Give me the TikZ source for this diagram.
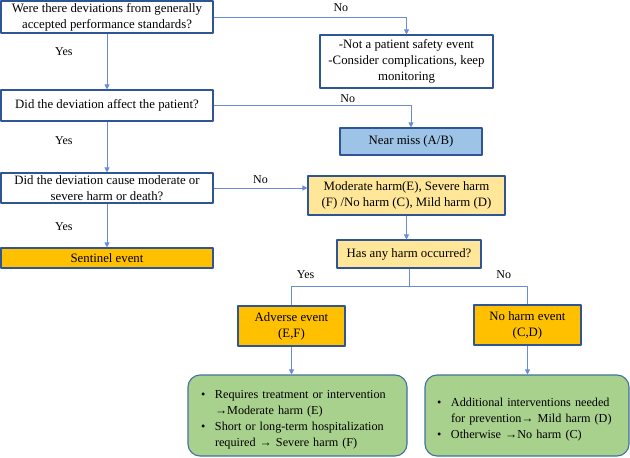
\documentclass[tikz,border=0pt]{standalone}
\usepackage{fontspec}
\setmainfont{Liberation Serif}
\usetikzlibrary{arrows.meta}
\definecolor{boxline}{HTML}{2F5597}
\definecolor{linkblue}{HTML}{6A8CD6}
\definecolor{nearblue}{HTML}{9DC3E6}
\definecolor{paleyellow}{HTML}{FFE699}
\definecolor{ambereven}{HTML}{FFC000}
\definecolor{leafgreen}{HTML}{A9D18E}
\definecolor{leafline}{HTML}{41719C}

\newcommand{\bulletline}[1]{\par\hyphenpenalty=10000\hangindent=14pt\hangafter=1\noindent\makebox[14pt][l]{\textbullet}#1\par}

\begin{document}
\begin{tikzpicture}[
  x=1pt,
  y=-1pt,
  line join=round,
  box/.style={draw=boxline,line width=1.1pt,align=center,inner sep=1pt,
    font=\fontsize{12.8}{16}\selectfont},
  question/.style={box,fill=white,minimum width=212pt},
  outcome/.style={box,fill=ambereven},
  pale/.style={box,fill=paleyellow},
  leaf/.style={draw=leafline,line width=1.1pt,fill=leafgreen,rounded corners=12pt,
    font=\fontsize{12.2}{16}\selectfont,align=left,inner sep=0pt},
  link/.style={draw=linkblue,line width=0.9pt,-{Triangle[length=5pt,width=5pt]}},
  plainlink/.style={draw=linkblue,line width=0.9pt},
  lbl/.style={font=\fontsize{12}{14}\selectfont,inner sep=1pt}
]
  \useasboundingbox (0,0) rectangle (630,458);

  % Left column of questions.
  \node[question,minimum height=32pt] (dev) at (107,17)
    {Were there deviations from generally\\accepted performance standards?};
  \node[question,minimum height=31pt] (affect) at (107,105.5)
    {Did the deviation affect the patient?};
  \node[question,minimum height=30pt] (cause) at (107,188)
    {Did the deviation cause moderate or\\severe harm or death?};
  \node[outcome,minimum width=212pt,minimum height=20pt] (sentinel) at (107,258)
    {Sentinel event};

  % Right column.
  \node[box,fill=white,minimum width=173pt,minimum height=53pt] (notpse) at (406.5,61.5)
    {-Not a patient safety event\\-Consider complications, keep\\monitoring};
  \node[box,fill=nearblue,minimum width=142pt,minimum height=27pt] (nearmiss) at (411,141.5)
    {Near miss (A/B)};
  \node[pale,minimum width=197pt,minimum height=39pt] (harms) at (406.5,195.5)
    {Moderate harm(E), Severe harm\\(F) /No harm (C), Mild harm (D)};
  \node[pale,minimum width=144pt,minimum height=28pt] (anyharm) at (409,254)
    {Has any harm occurred?};

  % Harm split.
  \node[outcome,minimum width=107pt,minimum height=40pt] (adverse) at (291.5,326)
    {Adverse event\\(E,F)};
  \node[outcome,minimum width=107pt,minimum height=40pt] (noharm) at (527.5,325)
    {No harm event\\(C,D)};
  \node[leaf,minimum width=219pt,minimum height=81pt,text width=193pt] (adverseleaf) at (297.5,415.5)
    {\bulletline{Requires treatment or intervention\newline →Moderate harm (E)}
     \bulletline{Short or long-term hospitalization\newline required → Severe harm (F)}};
  \node[leaf,minimum width=204pt,minimum height=81pt,text width=180pt] (noharmleaf) at (527,415.5)
    {\bulletline{Additional interventions needed\newline for prevention→ Mild harm (D)}
     \bulletline{Otherwise →No harm (C)}};

  % Connectors.
  \draw[link] (dev.east) -| node[lbl,pos=0.33,above=4pt] (no1) {No} (notpse.north);
  \draw[link] (dev.south) -- node[lbl,pos=0.33,left=33pt] (yes1) {Yes} (affect.north);
  \draw[link] (affect.east) -| node[lbl,pos=0.34,above=1pt] (no2) {No} (nearmiss.north);
  \draw[link] (affect.south) -- node[lbl,pos=0.37,left=33pt] (yes2) {Yes} (cause.north);
  \draw[link] (cause.east) -- node[lbl,pos=0.5,above=3pt] (no3) {No} (cause.east -| harms.west);
  \draw[link] (cause.south) -- node[lbl,pos=0.53,left=33pt] (yes3) {Yes} (sentinel.north);
  \draw[link] (harms.south) -- (harms.south |- anyharm.north);

  \coordinate (split) at ([yshift=-18pt]anyharm.south);
  \draw[plainlink] (anyharm.south) -- (split);
  \draw[plainlink] (split) -| node[lbl,pos=0.44,above=6pt] (yes4) {Yes} (adverse.north);
  \draw[plainlink] (split) -| node[lbl,pos=0.40,above=6pt] (no4) {No} (noharm.north);

  \draw[link] (adverse.south) -- (adverse.south |- adverseleaf.north);
  \draw[link] (noharm.south) -- (noharm.south |- noharmleaf.north);
\end{tikzpicture}
\end{document}
